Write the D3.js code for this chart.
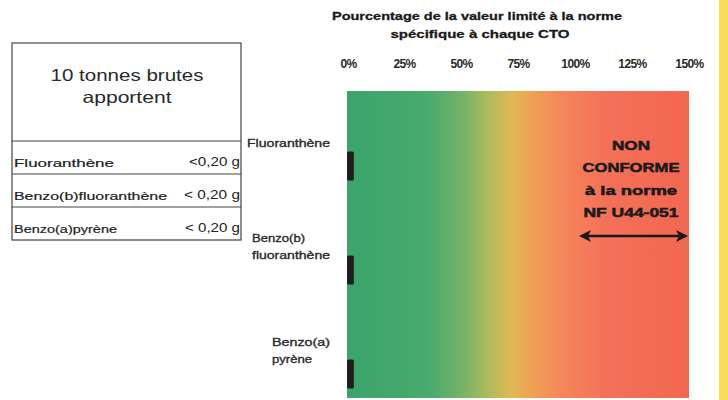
<!DOCTYPE html>
<html><head><meta charset="utf-8">
<script src="https://cdn.jsdelivr.net/npm/d3@7"></script>
<style>body{margin:0;background:#fff}svg{display:block}text{font-family:"Liberation Sans",Arial,sans-serif}</style>
</head><body><svg id="c" width="728" height="400"></svg>
<script>
// ---- data ----
const categories = ["Fluoranthène", "Benzo(b)fluoranthène", "Benzo(a)pyrène"];
const categoryLabelLines = [["Fluoranthène"], ["Benzo(b)", "fluoranthène"], ["Benzo(a)", "pyrène"]];
const percentValues = [3, 3, 3];
const tableAmounts = ["<0,20 g", "< 0,20 g", "< 0,20 g"];
const tickValues = [0, 25, 50, 75, 100, 125, 150];
const tickLabels = ["0%", "25%", "50%", "75%", "100%", "125%", "150%"];
const titleLines = ["Pourcentage de la valeur limité à la norme", "spécifique à chaque CTO"];
const tableHeader = ["10 tonnes brutes", "apportent"];
const nonConformeLines = ["NON", "CONFORME", "à la norme", "NF U44-051"];
const limitRange = [100, 150];

// ---- layout ----
const svg = d3.select("#c");
const x = d3.scaleLinear().domain([0, 150]).range([347, 689]);
const y = d3.scalePoint().domain(categories).range([166, 374]);
const plotTop = 91, plotBottom = 398;

// gradient
const defs = svg.append("defs");
const grad = defs.append("linearGradient").attr("id", "g").attr("x1", "0").attr("x2", "1").attr("y1", "0").attr("y2", "0");
[[0, "#3aa56c"], [0.24, "#4aaa6c"], [0.34, "#76b468"], [0.42, "#b4bb5c"], [0.48, "#e0b855"], [0.54, "#efa156"], [0.63, "#f4865a"], [0.76, "#f47058"], [1, "#f2674f"]]
  .forEach(([o, c]) => grad.append("stop").attr("offset", o).attr("stop-color", c));

svg.append("rect").attr("x", x(0)).attr("y", plotTop).attr("width", x(150) - x(0)).attr("height", plotBottom - plotTop).attr("fill", "url(#g)");

// yellow strip at right edge
svg.append("rect").attr("x", 719).attr("y", 0).attr("width", 9).attr("height", 400).attr("fill", "#f8df52");

// title
svg.selectAll(".title").data(titleLines).join("text")
  .attr("x", (d, i) => i ? 480 : 477).attr("y", (d, i) => i ? 38 : 20)
  .attr("text-anchor", "middle").attr("font-size", 11.5).attr("font-weight", "bold").attr("fill", "#1a1a1a")
  .attr("stroke", "#1a1a1a").attr("stroke-width", 0.3)
  .attr("textLength", (d, i) => i ? 179 : 290).attr("lengthAdjust", "spacingAndGlyphs")
  .text(d => d);

// tick labels (top axis)
const axis = d3.axisTop(x).tickValues(tickValues).tickFormat((d, i) => tickLabels[i]).tickSize(0).tickPadding(0);
const ag = svg.append("g").attr("transform", "translate(0,68)").call(axis);
ag.select(".domain").remove();
ag.selectAll("text").attr("font-size", 12).attr("fill", "#2a2a2a").attr("font-family", "Liberation Sans, Arial, sans-serif")
  .attr("font-weight", "bold").style("letter-spacing", "-0.6px").attr("dy", 0).attr("x", (d, i) => i === 0 ? 1 : 0);

// bars
const barH = 29;
svg.selectAll(".bar").data(categories).join("rect")
  .attr("x", x(0)).attr("y", d => y(d) - barH / 2)
  .attr("width", (d, i) => x(percentValues[i]) - x(0)).attr("height", barH)
  .attr("rx", 1.5).attr("fill", "#1e1e1e");

// category labels
const labelPos = [{x: 247, dy: -19}, {x: 252, dy: -28}, {x: 272, dy: -28}];
const labelWidths = [[83], [53, 78], [58, 40]];
categories.forEach((c, i) => {
  svg.append("g").selectAll("text").data(categoryLabelLines[i]).join("text")
    .attr("x", labelPos[i].x).attr("y", (d, j) => y(c) + labelPos[i].dy + j * 17)
    .attr("font-size", 11.5).attr("fill", "#2a2a2a").attr("stroke", "#2a2a2a").attr("stroke-width", 0.35)
    .attr("textLength", (d, j) => labelWidths[i][j]).attr("lengthAdjust", "spacingAndGlyphs")
    .text(d => d);
});

// non conforme annotation
const ncWidths = [38, 97, 92, 95];
svg.selectAll(".nc").data(nonConformeLines).join("text")
  .attr("x", 631).attr("y", (d, i) => 150 + i * 22.3)
  .attr("text-anchor", "middle").attr("font-size", 12.5).attr("font-weight", "bold").attr("fill", "#1a1a1a")
  .attr("stroke", "#1a1a1a").attr("stroke-width", 0.5)
  .attr("textLength", (d, i) => ncWidths[i]).attr("lengthAdjust", "spacingAndGlyphs")
  .text(d => d);

// double arrow
const ay = 236;
svg.append("line").attr("x1", x(limitRange[0]) + 8).attr("x2", x(limitRange[1]) - 6).attr("y1", ay).attr("y2", ay)
  .attr("stroke", "#1a1a1a").attr("stroke-width", 2.5);
const ax1 = x(limitRange[0]) + 4, ax2 = x(limitRange[1]) - 1;
svg.append("path").attr("d", `M${ax1},${ay} L${ax1 + 12},${ay - 6} L${ax1 + 9},${ay} L${ax1 + 12},${ay + 6} Z`).attr("fill", "#1a1a1a");
svg.append("path").attr("d", `M${ax2},${ay} L${ax2 - 12},${ay - 6} L${ax2 - 9},${ay} L${ax2 - 12},${ay + 6} Z`).attr("fill", "#1a1a1a");

// table on the left
const tb = {x0: 12, x1: 241, top: 43, head: 141, rows: [141, 174, 207, 240]};
const tg = svg.append("g");
tg.append("rect").attr("x", tb.x0).attr("y", tb.top).attr("width", tb.x1 - tb.x0).attr("height", tb.rows[3] - tb.top)
  .attr("fill", "none").attr("stroke", "#444").attr("stroke-width", 1.2);
tb.rows.slice(0, 3).forEach(r => tg.append("line").attr("x1", tb.x0).attr("x2", tb.x1).attr("y1", r).attr("y2", r)
  .attr("stroke", "#444").attr("stroke-width", 1.2));
tg.selectAll(".hd").data(tableHeader).join("text")
  .attr("x", 127).attr("y", (d, i) => 81 + i * 22).attr("text-anchor", "middle").attr("font-size", 16.5).attr("fill", "#2a2a2a")
  .attr("textLength", (d, i) => i ? 89 : 153).attr("lengthAdjust", "spacingAndGlyphs")
  .text(d => d);
const nameWidths = [100, 153, 103];
const amtWidths = [51, 56, 55];
categories.forEach((c, i) => {
  const by = tb.rows[i] + 26;
  tg.append("text").attr("x", 14).attr("y", by).attr("font-size", 11.5).attr("fill", "#222")
    .attr("stroke", "#222").attr("stroke-width", 0.2)
    .attr("textLength", nameWidths[i]).attr("lengthAdjust", "spacingAndGlyphs").text(c);
  tg.append("text").attr("x", 240).attr("y", by - 1).attr("text-anchor", "end").attr("font-size", 12.5).attr("fill", "#222")
    .attr("textLength", amtWidths[i]).attr("lengthAdjust", "spacingAndGlyphs").text(tableAmounts[i]);
});
</script></body></html>
